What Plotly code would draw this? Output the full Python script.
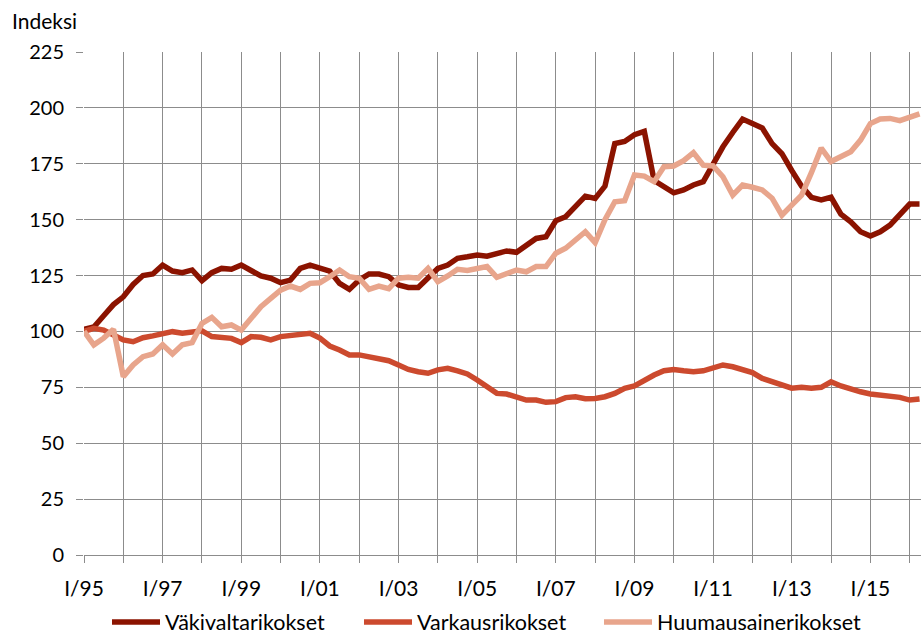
import plotly.graph_objects as go

# Quarterly index (1995Q1 = 100), quarters 1995Q1 .. 2016Q2
quarters = list(range(86))

vakivalta = [101, 102, 107, 112, 115.5, 121, 125, 125.7, 129.7, 127, 126.3, 127.5,
             122.7, 126.3, 128.2, 127.8, 129.7, 127.5, 124.8, 123.8, 121.8, 123, 128.2, 129.7,
             128.5, 127, 121.5, 118.8, 123, 125.7, 125.7, 124.5, 120.8, 119.7, 119.7, 124,
             128.2, 129.7, 132.7, 133.4, 134.2, 133.7, 135, 136, 135.4, 138.2, 141.6, 142.4,
             149.5, 151.3, 156, 160.5, 159.5, 165, 184, 185, 188, 189.5, 167.5, 164.5,
             162, 163.3, 165.5, 167, 175, 182.6, 189, 195, 193, 191, 184, 179.5,
             172, 165, 160, 158.8, 160, 152.5, 149, 144.6, 142.7, 144.6, 147.6, 152,
             157, 157]

varkaus = [100, 101.4, 100.6, 98.4, 96.2, 95.4, 97.2, 98, 99.2, 99.9, 99.2, 99.9,
           100.3, 97.7, 97.4, 96.9, 95, 97.7, 97.4, 96.2, 97.7, 98.4, 98.9, 99.2,
           97, 93.5, 91.7, 89.5, 89.5, 88.7, 87.5, 86.9, 85, 83, 82, 81.3,
           82.8, 83.5, 82.4, 81, 78.3, 75.3, 72.3, 72, 70.8, 69.3, 69.3, 68.3,
           68.6, 70.4, 70.8, 69.9, 70, 70.8, 72.3, 74.6, 75.6, 78.3, 80.5, 82.4,
           83, 82.4, 82, 82.4, 83.5, 85, 84.2, 82.8, 81.6, 79, 77.5, 76,
           74.6, 75, 74.6, 75, 77.5, 75.6, 74.1, 73, 72, 71.6, 71.1, 70.5,
           69.3, 69.8]

huumaus = [100, 94, 97, 101, 79.8, 85, 88.7, 89.9, 94, 89.9, 94, 95,
           103.6, 106.3, 102.1, 102.9, 100.6, 105.9, 111.1, 114.8, 118.5, 120.3, 118.8, 121.5,
           121.8, 124.5, 127.5, 124.5, 123.8, 118.8, 120.3, 119.1, 123.8, 124.2, 123.8, 128.2,
           122.3, 124.8, 127.8, 127.3, 128.2, 129, 124.2, 125.7, 127.5, 126.7, 129, 129,
           135, 137.2, 140.6, 144.6, 139.7, 150, 158, 158.5, 170, 169.5, 167, 173.7,
           174, 176.4, 180, 174.4, 174, 169.2, 161, 165.5, 164.5, 163.3, 159.6, 152,
           156.5, 161, 171, 182, 176, 178, 180.4, 185.6, 193, 195, 195.3, 194.3,
           196, 197.3]

tick_positions = list(range(0, 86, 4))
tick_labels = ["I/%02d" % ((95 + i // 4) % 100) if (i // 4) % 2 == 0 else "" for i in tick_positions]
y_ticks = [0, 25, 50, 75, 100, 125, 150, 175, 200, 225]

series = [
    ("Väkivaltarikokset", vakivalta, "#8B1300", "legend", 165),
    ("Varkausrikokset", varkaus, "#CC4A2E", "legend2", 417),
    ("Huumausainerikokset", huumaus, "#E8A58C", "legend3", 657),
]

FONT = "Lato, Open Sans, sans-serif"
grid = "#8c8c8c"
L, T, PW, PH = 84, 52, 837, 503
ITEMW = 48

fig = go.Figure()
legends = {}
for name, vals, col, leg, text_x in series:
    fig.add_trace(go.Scatter(x=quarters, y=vals, mode="lines", name=name, legend=leg,
                             line=dict(color=col, width=5.5)))
    legends[leg] = dict(orientation="h", x=(text_x - ITEMW - 10 - L) / PW, xanchor="left",
                        xref="paper", y=(T + PH - 622) / PH, yanchor="middle", yref="paper",
                        font=dict(family=FONT, size=21.5, color="#000000"),
                        itemwidth=ITEMW, bgcolor="rgba(0,0,0,0)")

fig.update_layout(
    width=921, height=632,
    margin=dict(l=L, r=0, t=T, b=632 - T - PH, autoexpand=False),
    paper_bgcolor="white", plot_bgcolor="white",
    font=dict(family=FONT, size=20, color="#000000"),
    showlegend=True,
    **legends,
)
fig.add_annotation(text="Indeksi", xref="paper", yref="paper",
                   x=(10 - L) / PW, y=(T + PH - 21) / PH, xanchor="left", yanchor="middle",
                   showarrow=False, font=dict(family=FONT, size=21, color="#000000"))

fig.update_xaxes(range=[0, 85.15], tickmode="array", tickvals=tick_positions,
                 ticktext=tick_labels, showgrid=True, gridcolor=grid, gridwidth=1.3,
                 ticks="outside", ticklen=7, tickcolor=grid, tickwidth=1.3,
                 showline=True, linecolor=grid, linewidth=1.3, zeroline=False,
                 ticklabelstandoff=8, tickfont=dict(size=21),
                 automargin=False, fixedrange=True)
fig.update_yaxes(range=[0, 225], tickmode="array", tickvals=y_ticks,
                 showgrid=True, gridcolor=grid, gridwidth=1.3,
                 ticks="outside", ticklen=7, tickcolor=grid, tickwidth=1.3,
                 showline=False, zeroline=False, ticklabelstandoff=8,
                 automargin=False, fixedrange=True)

fig.write_html("out.html", config={"displayModeBar": False},
               post_script="document.body.style.margin='0';")
